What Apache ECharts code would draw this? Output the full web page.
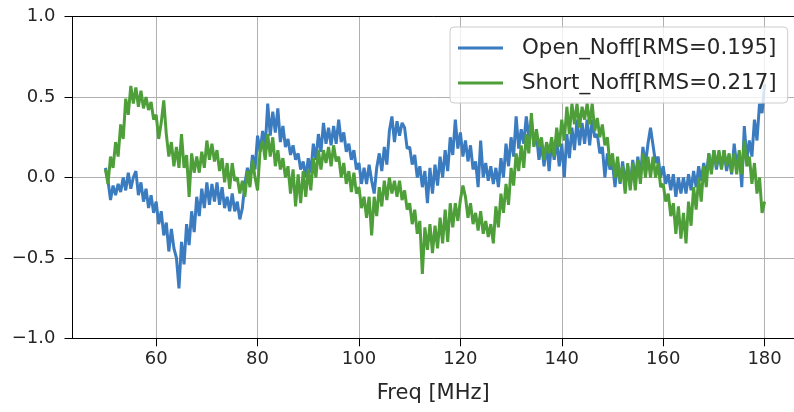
<!DOCTYPE html>
<html>
<head>
<meta charset="utf-8">
<script src="https://cdn.jsdelivr.net/npm/echarts@6/dist/echarts.min.js"></script>
<style>
html,body{margin:0;padding:0;background:#fff;}
#c{width:794px;height:412px;}
</style>
</head>
<body>
<div id="c"></div>
<script>
// Frequency grid (MHz), uniform 0.5 MHz sampling from 50 to 180
const freqStart = 50, freqStep = 0.5;
const xTicks = [60, 80, 100, 120, 140, 160, 180];
const yTicks = [-1, -0.5, 0, 0.5, 1];
const seriesNames = ['Open_Noff[RMS=0.195]', 'Short_Noff[RMS=0.217]'];

const openNoff = [
  0.06,-0.02, -0.14,-0.05, -0.11,-0.04, -0.09,0.00, -0.08,0.03,
  -0.07,0.00, 0.04,-0.11, -0.03,-0.15, -0.07,-0.19, -0.11,-0.22,
  -0.15,-0.29, -0.21,-0.36, -0.28,-0.46, -0.32,-0.44, -0.50,-0.69,
  -0.40,-0.54, -0.29,-0.42, -0.21,-0.34, -0.12,-0.24, -0.07,-0.19,
  -0.03,-0.17, -0.04,-0.15, -0.03,-0.17, -0.06,-0.19, -0.12,-0.21,
  -0.10,-0.21, -0.15,-0.26, -0.19,-0.04, 0.06,-0.02, 0.14,0.05,
  0.26,0.16, 0.29,0.18, 0.46,0.26, 0.41,0.28, 0.43,0.22,
  0.32,0.19, 0.24,0.14, 0.20,0.11, 0.15,0.05, 0.10,0.00,
  0.12,0.03, 0.21,0.11, 0.27,0.16, 0.34,0.21, 0.31,0.20,
  0.32,0.21, 0.36,0.22, 0.28,0.16, 0.21,0.11, 0.17,0.05,
  0.09,-0.04, 0.06,-0.04, 0.08,-0.02, -0.10,0.06, 0.15,0.04,
  0.19,0.08, 0.29,0.38, 0.22,0.35, 0.26,0.34, 0.31,0.18,
  0.19,0.08, 0.14,0.00, 0.07,-0.06, 0.04,-0.16, 0.06,-0.10,
  0.08,-0.05, 0.13,0.00, 0.17,0.04, 0.25,0.14, 0.36,0.18,
  0.28,0.13, 0.23,0.10, 0.20,0.05, 0.10,-0.06, 0.23,0.00,
  0.09,-0.02, 0.07,-0.04, 0.06,-0.06, 0.12,0.00, 0.21,0.07,
  0.25,0.13, 0.38,0.18, 0.30,0.21, 0.38,0.25, 0.36,0.20,
  0.27,0.11, 0.21,0.07, 0.21,0.04, 0.23,0.11, 0.23,0.07,
  0.21,0.00, 0.27,0.12, 0.31,0.17, 0.36,0.20, 0.34,0.21,
  0.36,0.20, 0.36,0.25, 0.27,0.15, 0.19,0.00, 0.15,0.05,
  0.09,-0.06, 0.10,-0.04, 0.10,-0.04, 0.07,-0.06, 0.11,-0.02,
  0.13,0.00, 0.19,0.08, 0.21,0.31, 0.20,0.09, 0.13,0.00,
  0.07,-0.04, 0.02,-0.08, 0.02,-0.12, 0.00,-0.10, 0.00,-0.10,
  0.02,-0.08, 0.04,-0.06, 0.07,-0.02, 0.09,0.00, 0.15,0.04,
  0.17,0.05, 0.15,0.06, 0.17,0.04, 0.13,0.02, 0.21,0.07,
  0.15,-0.06, 0.32,0.11, 0.23,0.13, 0.36,0.23, 0.46,0.40,
  0.58
];

const shortNoff = [
  0.05,-0.04, 0.13,0.06, 0.22,0.13, 0.33,0.24, 0.49,0.39,
  0.57,0.46, 0.56,0.44, 0.54,0.43, 0.50,0.42, 0.47,0.36,
  0.39,0.24, 0.34,0.48, 0.27,0.13, 0.22,0.07, 0.19,0.06,
  0.27,0.06, 0.14,-0.12, 0.15,0.03, 0.13,0.03, 0.16,0.06,
  0.23,0.11, 0.21,0.10, 0.17,0.04, 0.12,-0.03, 0.09,-0.07,
  0.09,-0.02, 0.00,-0.10, -0.02,-0.12, 0.04,-0.06, 0.11,0.00,
  -0.08,0.17, 0.23,0.11, 0.27,0.13, 0.25,0.07, 0.17,0.05,
  0.12,0.00, 0.07,-0.10, 0.05,-0.18, 0.02,-0.16, 0.04,-0.12,
  0.05,-0.08, 0.12,0.00, 0.17,0.05, 0.17,0.09, 0.19,0.07,
  0.20,0.10, 0.13,0.00, 0.09,-0.04, 0.04,-0.09, 0.03,-0.10,
  -0.06,-0.19, -0.12,-0.25, -0.12,-0.36, -0.12,-0.24, -0.06,-0.18,
  -0.02,-0.14, 0.00,-0.10, -0.02,-0.12, -0.02,-0.14, -0.08,-0.20,
  -0.16,-0.29, -0.20,-0.35, -0.27,-0.60, -0.31,-0.45, -0.29,-0.47,
  -0.30,-0.44, -0.25,-0.41, -0.20,-0.40, -0.16,-0.31, -0.16,-0.27,
  -0.14,-0.05, -0.12,-0.25, -0.16,-0.29, -0.22,-0.33, -0.21,-0.35,
  -0.27,-0.37, -0.29,-0.41, -0.18,-0.31, -0.10,-0.22, -0.04,-0.17,
  0.06,-0.05, 0.15,0.04, 0.20,0.06, 0.27,0.15, 0.40,0.19,
  0.30,0.19, 0.25,0.11, 0.22,0.15, 0.25,0.13, 0.31,0.19,
  0.36,0.23, 0.44,0.27, 0.46,0.33, 0.46,0.31, 0.44,0.36,
  0.46,0.33, 0.46,0.29, 0.37,0.25, 0.33,0.20, 0.25,0.07,
  0.15,0.00, 0.13,-0.03, 0.07,-0.10, 0.09,-0.08, 0.09,-0.08,
  0.11,-0.04, 0.15,0.00, 0.13,0.00, 0.13,0.00, 0.09,-0.06,
  -0.04,-0.15, -0.10,-0.24, -0.16,-0.35, -0.18,-0.38, -0.22,-0.41,
  -0.15,-0.30, -0.06,-0.20, 0.00,-0.15, 0.07,-0.06, 0.15,0.02,
  0.17,0.07, 0.17,0.05, 0.17,0.07, 0.15,0.03, 0.15,0.02,
  0.17,0.02, 0.23,0.07, 0.13,-0.04, 0.09,-0.10, 0.00,-0.22,
  -0.15
];

function pairs(vals) {
  return vals.map((v, i) => [freqStart + i * freqStep, v]);
}

const FONT = 'DejaVu Sans';
const TXT = '#262626';
const X_MIN = 43.5, X_MAX = 185.8;
const chart = echarts.init(document.getElementById('c'), null, {renderer: 'canvas'});
chart.setOption({
  animation: false,
  backgroundColor: '#ffffff',
  grid: {left: 72.5, top: 16.7, right: 0, bottom: 73.7, show: false},
  legend: {
    orient: 'vertical',
    left: 450, top: 27,
    padding: [9, 11, 8, 8],
    itemGap: 11,
    itemWidth: 45, itemHeight: 3,
    icon: 'rect',
    backgroundColor: 'rgba(255,255,255,0.8)',
    borderColor: '#cccccc', borderWidth: 1, borderRadius: 4,
    textStyle: {fontFamily: FONT, fontSize: 21.4, color: TXT, lineHeight: 24, padding: [0, 0, 0, 14]},
    data: seriesNames
  },
  xAxis: [{
    type: 'value', min: X_MIN, max: X_MAX, position: 'bottom',
    name: 'Freq [MHz]', nameLocation: 'middle', nameGap: 45,
    nameTextStyle: {fontFamily: FONT, fontSize: 21, color: TXT},
    axisLine: {show: true, onZero: false, lineStyle: {color: '#000', width: 1}},
    axisTick: {show: true, length: 8, customValues: xTicks, lineStyle: {color: '#000'}},
    axisLabel: {customValues: xTicks, margin: 12, fontFamily: FONT, fontSize: 18, color: TXT},
    splitLine: {show: true, lineStyle: {color: '#b0b0b0', width: 1}}
  }, {
    type: 'value', min: X_MIN, max: X_MAX, position: 'top',
    axisLine: {show: true, onZero: false, lineStyle: {color: '#000', width: 1}},
    axisTick: {show: false}, axisLabel: {show: false}, splitLine: {show: false}
  }],
  yAxis: {
    type: 'value', min: -1, max: 1, interval: 0.5,
    axisLine: {show: true, onZero: false, lineStyle: {color: '#000', width: 1}},
    axisTick: {show: true, length: 8, lineStyle: {color: '#000'}},
    axisLabel: {
      margin: 17, fontFamily: FONT, fontSize: 18, color: TXT,
      formatter: v => v.toFixed(1).replace('-', '\u2212')
    },
    splitLine: {show: true, lineStyle: {color: '#b0b0b0', width: 1}}
  },
  series: [
    {
      name: seriesNames[0], type: 'line', data: pairs(openNoff), xAxisIndex: 0,
      symbol: 'none', showSymbol: false, sampling: null,
      lineStyle: {color: '#3b7bbf', width: 3}, itemStyle: {color: '#3b7bbf'}, z: 2
    },
    {
      name: seriesNames[1], type: 'line', data: pairs(shortNoff), xAxisIndex: 0,
      symbol: 'none', showSymbol: false, sampling: null,
      lineStyle: {color: '#4e9f3a', width: 3}, itemStyle: {color: '#4e9f3a'}, z: 3
    }
  ]
});
</script>
</body>
</html>
